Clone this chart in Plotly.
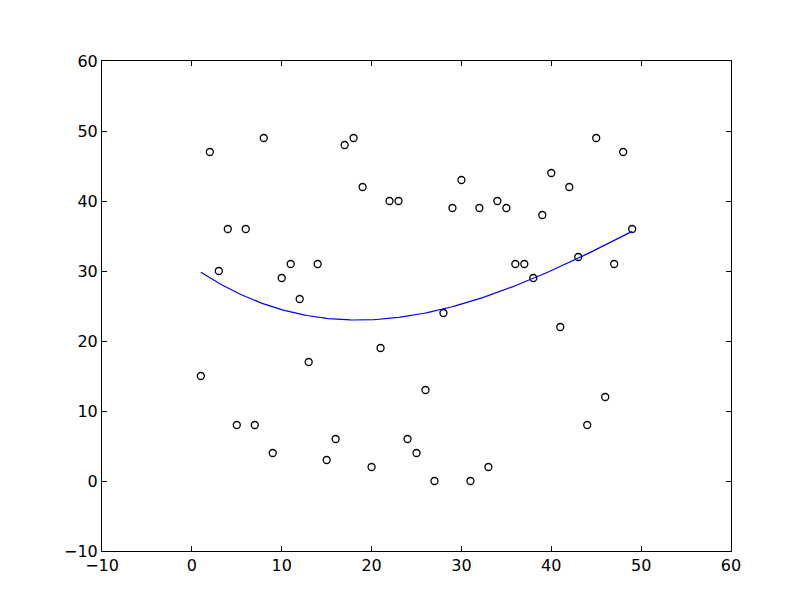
import numpy as np
import plotly.graph_objects as go

# scatter data
x_vals = list(range(1, 50))
y_vals = [15, 47, 30, 36, 8, 36, 8, 49, 4, 29,
          31, 26, 17, 31, 3, 6, 48, 49, 42, 2,
          19, 40, 40, 6, 4, 13, 0, 24, 39, 43,
          0, 39, 2, 40, 39, 31, 31, 29, 38, 44,
          22, 42, 32, 8, 49, 12, 31, 47, 36]

x_ticks = [-10, 0, 10, 20, 30, 40, 50, 60]
y_ticks = [-10, 0, 10, 20, 30, 40, 50, 60]

# cubic trend line fitted to the points
coef = np.polyfit(x_vals, y_vals, 3)
fit_x = np.linspace(min(x_vals), max(x_vals), 200)
fit_y = np.polyval(coef, fit_x)

fig = go.Figure()
fig.add_trace(go.Scatter(
    x=x_vals, y=y_vals, mode='markers',
    marker=dict(symbol='circle', size=7, color='white',
                line=dict(color='black', width=1.3)),
    showlegend=False))
fig.add_trace(go.Scatter(
    x=fit_x, y=fit_y, mode='lines',
    line=dict(color='rgb(0,0,255)', width=1.2),
    showlegend=False))

axis_style = dict(
    showgrid=False, zeroline=False, showline=True, mirror='ticks',
    linecolor='black', linewidth=1, ticks='inside', ticklen=5,
    tickcolor='black', tickwidth=1,
    tickfont=dict(family='DejaVu Sans', size=16, color='black'))

fig.update_xaxes(range=[-10, 60], tickvals=x_ticks, **axis_style)
fig.update_yaxes(range=[-10, 60], tickvals=y_ticks, **axis_style)

fig.update_layout(
    width=800, height=600,
    margin=dict(l=94, r=77, t=53, b=57),
    plot_bgcolor='white', paper_bgcolor='white')

fig.write_html("out.html")
